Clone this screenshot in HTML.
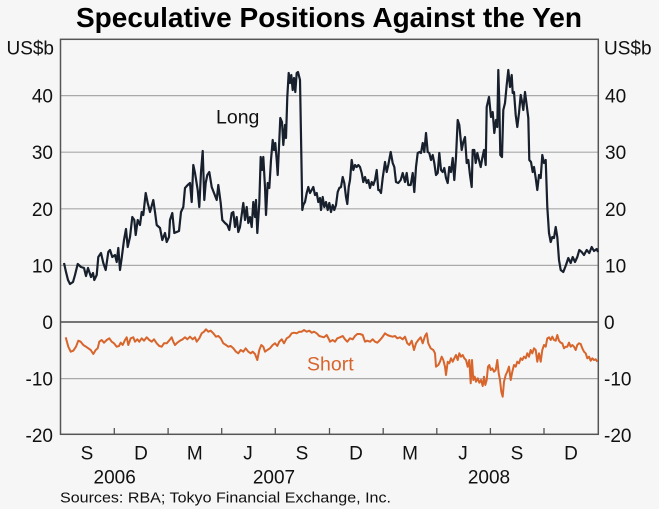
<!DOCTYPE html>
<html>
<head>
<meta charset="utf-8">
<style>
html,body{margin:0;padding:0;background:#f6f6f6;}
svg{display:block;}
text{font-family:"Liberation Sans",Arial,sans-serif;}
</style>
</head>
<body>
<svg width="659" height="509" viewBox="0 0 659 509" xmlns="http://www.w3.org/2000/svg">
<rect x="0" y="0" width="659" height="509" fill="#f6f6f6"/>
<text x="76" y="27" font-size="28" font-weight="bold" fill="#000" textLength="506" lengthAdjust="spacingAndGlyphs">Speculative Positions Against the Yen</text>

<!-- gridlines -->
<g stroke="#a9a9a9" stroke-width="1.2">
<line x1="60.5" y1="95.6" x2="598.3" y2="95.6"/>
<line x1="60.5" y1="152.2" x2="598.3" y2="152.2"/>
<line x1="60.5" y1="208.8" x2="598.3" y2="208.8"/>
<line x1="60.5" y1="265.4" x2="598.3" y2="265.4"/>
<line x1="60.5" y1="378.6" x2="598.3" y2="378.6"/>
</g>
<line x1="60.5" y1="322" x2="598.3" y2="322" stroke="#4a4a4a" stroke-width="1.6"/>

<!-- frame -->
<rect x="60.5" y="39.3" width="537.8" height="395" fill="none" stroke="#555" stroke-width="1.5"/>
<g stroke="#555" stroke-width="1.3">
<line x1="114.3" y1="428" x2="114.3" y2="434"/>
<line x1="168.1" y1="428" x2="168.1" y2="434"/>
<line x1="221.7" y1="428" x2="221.7" y2="434"/>
<line x1="275.3" y1="428" x2="275.3" y2="434"/>
<line x1="329.5" y1="428" x2="329.5" y2="434"/>
<line x1="383.2" y1="428" x2="383.2" y2="434"/>
<line x1="436.8" y1="428" x2="436.8" y2="434"/>
<line x1="490.4" y1="428" x2="490.4" y2="434"/>
<line x1="544.0" y1="428" x2="544.0" y2="434"/>
</g>

<!-- y labels -->
<g font-size="19" fill="#111" text-anchor="end">
<text x="54" y="54.5">US$b</text>
<text x="53" y="102.6">40</text>
<text x="53" y="159.2">30</text>
<text x="53" y="215.8">20</text>
<text x="53" y="272.4">10</text>
<text x="53" y="329">0</text>
<text x="53" y="385.6">-10</text>
<text x="53" y="442.2">-20</text>
</g>
<g font-size="19" fill="#111" text-anchor="start">
<text x="604" y="54.5">US$b</text>
<text x="605" y="102.6">40</text>
<text x="605" y="159.2">30</text>
<text x="605" y="215.8">20</text>
<text x="605" y="272.4">10</text>
<text x="604" y="329">0</text>
<text x="604" y="385.6">-10</text>
<text x="604" y="442.2">-20</text>
</g>

<!-- x labels -->
<g font-size="19" fill="#111" text-anchor="middle">
<text x="87" y="459.5">S</text>
<text x="141" y="459.5">D</text>
<text x="194.8" y="459.5">M</text>
<text x="248" y="459.5">J</text>
<text x="302" y="459.5">S</text>
<text x="356" y="459.5">D</text>
<text x="410" y="459.5">M</text>
<text x="463" y="459.5">J</text>
<text x="517" y="459.5">S</text>
<text x="571" y="459.5">D</text>
<text x="114.7" y="483.5">2006</text>
<text x="274" y="483.5">2007</text>
<text x="489" y="483.5">2008</text>
</g>
<text x="60" y="502.5" font-size="14.5" fill="#111" textLength="331" lengthAdjust="spacingAndGlyphs">Sources: RBA; Tokyo Financial Exchange, Inc.</text>

<!-- Short series -->
<polyline fill="none" stroke="#d7652c" stroke-width="2" stroke-linejoin="round" points="65.7,337.3 68.3,346.7 70.7,351.7 73.3,350.7 76,346.7 78.3,340.7 80.7,341.7 83.3,345 86,346.7 88.3,348.3 90.7,350 93.3,354 95.7,350 97.7,348.3 99.3,341.7 101.7,340 104,342.7 106.7,340 109.3,338.3 111.7,341.7 114,343.3 116.7,346.7 119,346 120.7,342.7 122.7,345 125,340 126.7,337.3 128.3,345 130.7,338.3 133.3,337.3 135,341.7 137.3,339.3 139.3,341.7 141.7,338.3 144,340.7 146.7,337.3 149.3,340 151.7,341.7 154,339.3 156.7,343.3 159.3,346 161.7,346.7 164,343.3 166.7,343.3 169,340.7 171.7,337.3 173.3,341.7 175,345 177.3,342.7 180,340.7 182.7,339.3 185,337.3 187.3,339.3 190,336.7 192.7,339.3 195,337.3 196.7,341.7 199.3,338.3 201.7,333.3 204,331.7 206,329.3 208.3,331.7 210.7,330.7 213.3,333.3 216,336.7 218.3,336 220.7,338.3 223.3,343.3 226,345 228.3,346.7 230.7,346 233.3,348.3 236,351.7 238.3,353.3 240.7,350 243.3,351.7 245.7,348.3 248.3,351.7 250.7,353.3 252.7,351.7 255,354 257.3,360 259.3,350 261.3,345 263.3,346.7 265,351.7 267.3,350 270,348.3 272.7,345 275,343.3 277.3,346 279.3,341.7 281.7,339.3 284,343.3 286.7,338.3 289.3,336.7 291.7,333.3 294,332.7 296.7,333.3 299.3,331.7 301.7,331.7 304,330 306.7,331.7 309.3,330.7 311.7,332.7 314,331.7 316.7,333.3 319.3,336 321.7,336.7 324,337.3 326.7,335 329.3,340 330,341.7 332.7,340 335,341.7 337.3,338.3 340,337.3 342.7,336 345,339.3 347.3,341.7 350,338.3 352.7,339.3 355,336 357.3,334 360,334 362.7,335 365,341.7 367.3,340.7 370,341.7 372.7,339.3 375,341.7 377.3,342.7 380,340 382.7,336.7 385,333.3 387.3,335 390,336 392.7,336.7 395,336 397.3,338.3 400,337.3 402.7,339.3 405,336.7 407.3,343.3 409.3,345 411.7,340.7 414,350 416,343.3 418.3,340 420.7,337.3 422.7,343.3 425,336 426.7,333.3 428.3,343.3 430.7,348.3 433.3,350 435,353.3 436,366.7 438.3,365 440,361.7 441.7,356.7 443.3,360 445,366.7 446,375 447.7,361.7 449.3,363.3 451,358.3 452.7,361.7 454.3,358.3 456,355 457.7,360 459.3,353.3 461,356.7 462.7,355 464.3,358.3 466,360 467.7,366.7 469.3,360 470.7,383.3 472,360 473.3,380 474.7,376.7 476,381.7 477.7,378.3 479.3,382.7 481,380 482.7,386 484,376.7 485.3,385 486.7,380 488,366.7 489.3,365 490.7,370 492.3,368.3 494,371.7 495.7,370 497.3,360 498.7,373.3 500,380 501.3,391.7 502.7,396.7 504,381.7 505.7,375 507.3,371.7 509,366.7 510.7,380 512.3,371.7 514,365 515.7,366.7 517.3,361.7 519,363.3 520.7,358.3 522.3,360 524,356.7 525.7,358.3 527.3,353.3 529,356.7 530.7,350 532.3,353.3 534,348.3 535.7,350 537.3,361.7 539,353.3 540.7,361.7 542.3,350 544,345 545.7,346.7 547.3,338.3 549,337.3 550.7,340 552.3,336.7 554,340 555.7,340.7 557.3,335 559,340.7 560.7,342.7 562.3,343.3 564,348.3 565.7,346.7 567.3,346.7 569,342.7 570.7,346.7 572.3,345 574,346.7 575.7,350 577.3,345 579,343.3 580.7,344 582.3,348.3 584,351.7 585.7,353.3 587.3,358.3 589,356.7 590.7,360.7 592.3,358.3 594,360 595.7,359.3 597.3,361.7"/>

<!-- Long series -->
<polyline fill="none" stroke="#17202c" stroke-width="2.2" stroke-linejoin="round" points="64,263 66,272 68,280 70,284 73,282 75,275 77.7,264 81,267 84,268 86,276 88,268 91,277 93,273 94.3,280 96.7,275 98.3,257 101,253 103.3,263 105.7,270 108.3,252 110,250 112.3,257 115,255 116.7,262 118.3,248 120,270 121.7,258 124,240 126,229 127.7,247 130,237 132.3,217 134.3,220 135.7,235 137.7,220 140,225 141.7,212 143.3,215 145.7,193 147.7,203 150,212 153.3,200 155,212 156.7,225 160,228 162.3,240 165,233 166.7,242 169,237 170,220 172.3,213 174.3,233 176.7,232 179,231 181,212 183.3,207 185,188 187.7,185 190,183 191.7,202 193.3,165 195,173 197.7,190 199.3,207 201,172 202.7,151 204.3,200 205.7,183 207.3,175 209.3,172 211.7,187 214,193 216.7,200 218.3,185 220.7,203 222.3,220 225,223 227.3,225 229.3,230 231.7,213 233.3,212 235,227 236.7,217 238.3,232 240,227 243.3,203 245,220 246.7,207 248.3,223 250,217 251.7,227 253.3,202 255,217 256,200 257.3,233 259.3,203 260.7,157 262,170 263.3,157 265,187 266,215 267.7,183 269.3,188 271,160 272.7,140 274,150 275.3,143 276.7,160 277.7,175 279,147 280.3,118 282,122 283.3,145 285,125 286,138 287.3,97 288.7,73 290,83 291.3,75 292.7,90 294,78 295.3,92 296.7,73 298,72 300,80 301.3,153 302.3,210 303.3,205 305,202 306.7,193 308.3,187 310,193 311.7,190 313.3,187 315,195 316.7,193 318.3,202 320,198 321,210 322.7,197 324.3,207 326,202 327.7,210 329.3,203 331,212 332.7,205 334.3,210 336,205 337.7,192 339.3,188 341,187 342.7,177 344.3,183 346,197 347.3,204 348.7,187 350,180 351.7,160 353.3,170 355,165 356.7,167 358.3,165 360,167 361.7,173 363.3,182 365,177 366.7,183 368.3,180 370,188 371.7,182 373.3,185 375,180 376.7,170 378.3,190 379.3,190 381,193 382.7,178 385,162 386.7,172 388.3,165 390.7,152 392.7,163 394.3,167 396,182 398.3,183 400.7,180 402.7,173 405,182 406.7,173 408.3,185 410.7,185 412.7,173 414.3,192 416,167 417.7,153 419.3,152 421,153 422.7,143 424.3,152 426,133 427.7,152 429.3,153 431,160 432.7,155 434.3,163 436,175 437.7,173 439.3,153 441,170 442.7,172 444.3,168 446,178 447.7,183 449.3,167 451,172 452.7,158 454.3,180 456,157 457.7,120 459.3,125 461.7,150 463.3,142 465,137 466.7,163 468.3,160 470,175 471.7,187 472.7,150 474.3,150 475.7,163 477.3,153 479,160 480.7,167 482.3,158 484,150 485.7,165 486.7,107 489,97 491,117 492.7,112 494.3,133 496,120 497.3,127 498.3,70 499.3,103 500.3,155 502,157 503.3,110 505,103 506.7,85 508.3,70 510,87 511.7,75 512.7,93 514,92 515.7,115 517.3,127 519,113 520.7,95 522.3,103 523.3,110 525,92 526.7,105 528.3,118 529.3,160 531,162 532.7,172 534,167 535.7,178 537.3,190 539,175 540.7,178 542.3,155 544,163 545.7,160 547.3,207 549,233 550.7,242 552.3,237 554,238 555.7,227 557.3,237 559,260 560.7,270 563.3,272 566,265 568.3,258 570.7,263 572.7,257 575,262 577.3,257 579.3,250 581.7,252 584,255 586.7,250 589.3,253 591.7,247 594,251 596.7,249 598,252"/>

<text x="216" y="123.3" font-size="19.5" fill="#111">Long</text>
<text x="307" y="370.5" font-size="19.5" fill="#d7652c">Short</text>
</svg>
</body>
</html>
